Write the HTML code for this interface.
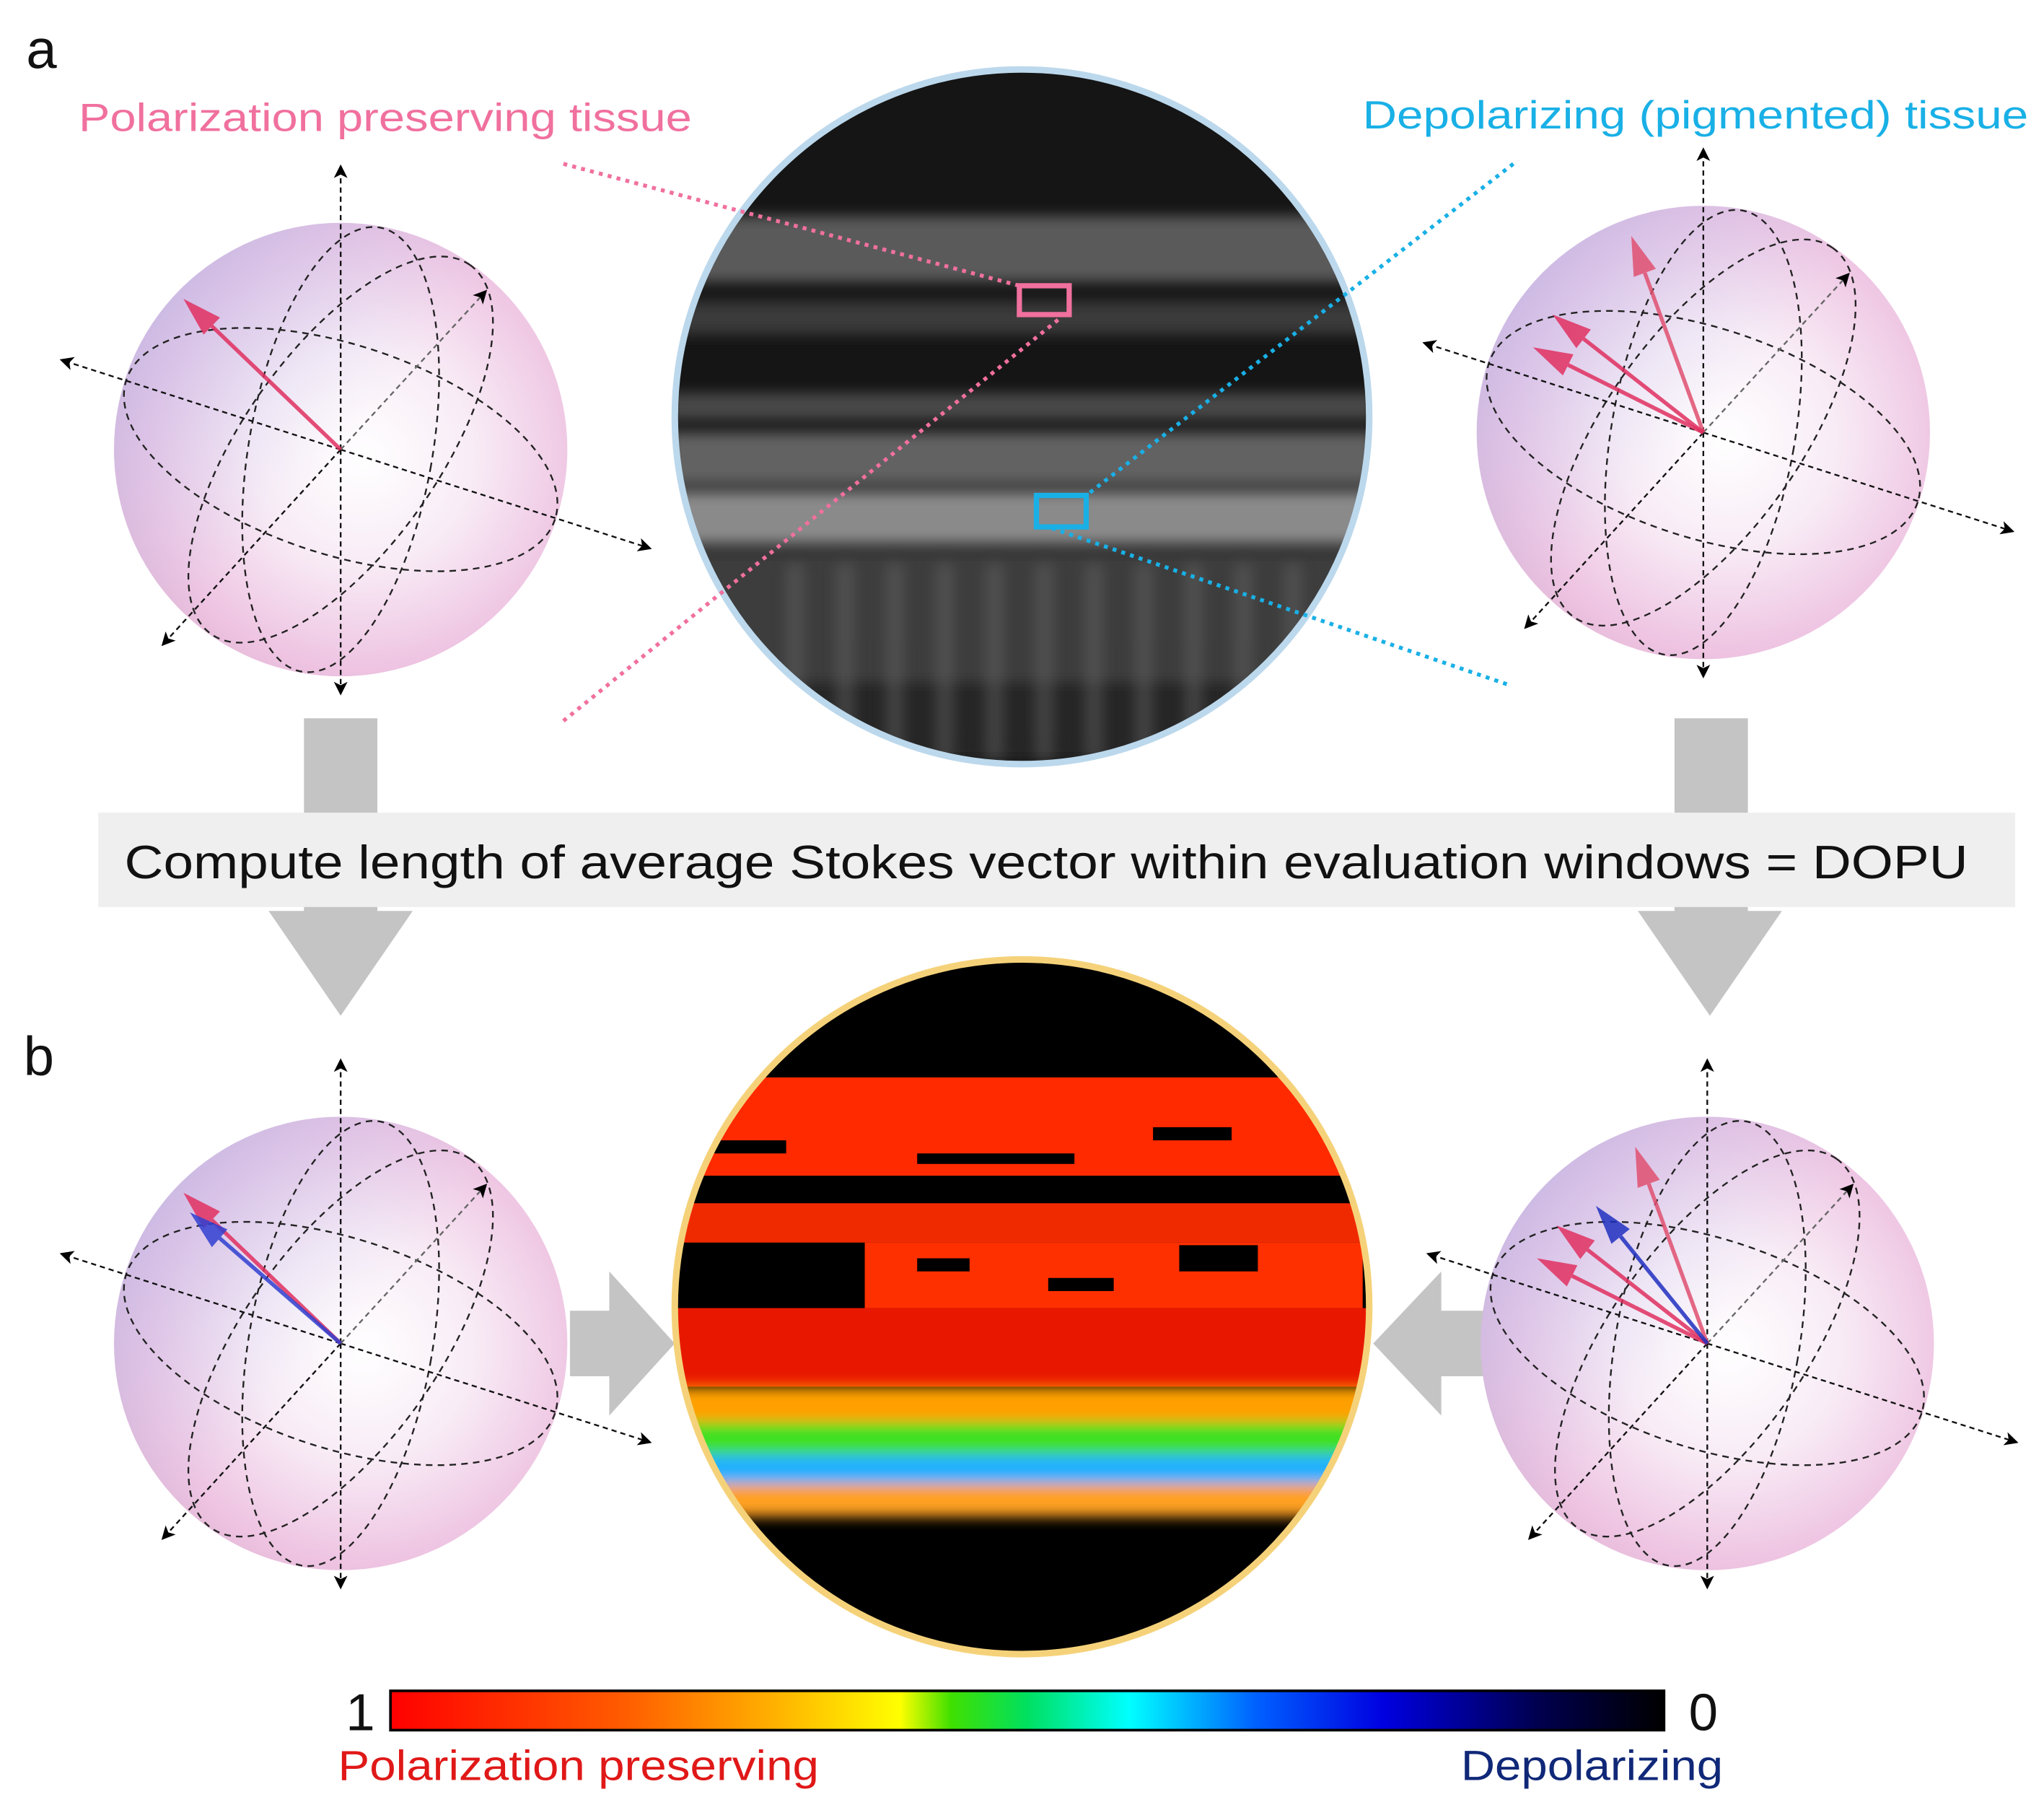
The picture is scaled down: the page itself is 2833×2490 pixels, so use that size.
<!DOCTYPE html>
<html><head><meta charset="utf-8"><style>
html,body{margin:0;padding:0;background:#fff;}
svg{display:block;}
text{font-family:"Liberation Sans","DejaVu Sans",sans-serif;}
</style></head><body>
<svg id="fig" width="2833" height="2490" viewBox="0 0 1560 1371" preserveAspectRatio="none" xmlns="http://www.w3.org/2000/svg">
<defs>
<radialGradient id="sph" cx="0.55" cy="0.5" r="0.6" fx="0.55" fy="0.52">
<stop offset="0" stop-color="#ffffff"/><stop offset="0.4" stop-color="#f8ecf6"/><stop offset="0.8" stop-color="#eec4e2"/><stop offset="1" stop-color="#e0b4d4"/></radialGradient>
<linearGradient id="sphtop" x1="0.2" y1="0" x2="0.9" y2="0.6"><stop offset="0" stop-color="#a8b8f0" stop-opacity="0.45"/><stop offset="0.6" stop-color="#b8c8f0" stop-opacity="0"/></linearGradient>
<linearGradient id="cbar" x1="0" x2="1"><stop offset="0" stop-color="#ff0000"/><stop offset="0.18" stop-color="#ff5a00"/><stop offset="0.3" stop-color="#ffb000"/><stop offset="0.4" stop-color="#ffff00"/><stop offset="0.44" stop-color="#40e000"/><stop offset="0.5" stop-color="#00e060"/><stop offset="0.58" stop-color="#00ffff"/><stop offset="0.68" stop-color="#0060ff"/><stop offset="0.78" stop-color="#0000e0"/><stop offset="0.9" stop-color="#000050"/><stop offset="1" stop-color="#000000"/></linearGradient>
<clipPath id="c1"><circle cx="780" cy="318" r="265"/></clipPath>
<clipPath id="c2"><circle cx="780" cy="997" r="265"/></clipPath>
<filter id="blur"><feGaussianBlur stdDeviation="5"/></filter>
<marker id="ah" markerWidth="8" markerHeight="8" refX="6" refY="4" orient="auto" markerUnits="strokeWidth"><path d="M0,0 L8,4 L0,8 L2,4z" fill="#000"/></marker>
</defs>

<text x="20" y="52" font-size="42" fill="#111">a</text>
<text x="18" y="820" font-size="42" fill="#111">b</text>
<text x="60" y="100" font-size="30" fill="#f0709e" textLength="468" lengthAdjust="spacingAndGlyphs">Polarization preserving tissue</text>
<text x="1040" y="98" font-size="30" fill="#19b0e6" textLength="508" lengthAdjust="spacingAndGlyphs">Depolarizing (pigmented) tissue</text>

<g fill="#c4c4c4">
<rect x="232" y="548" width="56" height="150"/><path d="M205,695 L315,695 L260,775z"/>
<rect x="1278" y="548" width="56" height="150"/><path d="M1250,695 L1360,695 L1305,775z"/>
<rect x="435" y="1000" width="40" height="50"/><path d="M465,970 L515,1025 L465,1080z"/>
<rect x="1090" y="1000" width="45" height="50"/><path d="M1100,970 L1048,1025 L1100,1080z"/>
</g>
<rect x="75" y="620" width="1463" height="72" fill="#efefef"/>
<text x="95" y="670" font-size="36" fill="#111" textLength="1407" lengthAdjust="spacingAndGlyphs">Compute length of average Stokes vector within evaluation windows = DOPU</text>

<g clip-path="url(#c1)">
<rect x="510" y="50" width="540" height="540" fill="#151515"/>
<g filter="url(#blur)">
<rect x="510" y="165" width="540" height="50" fill="#5a5a5a"/>
<rect x="510" y="230" width="540" height="25" fill="#3a3a3a"/>
<rect x="510" y="300" width="540" height="20" fill="#4a4a4a"/>
<rect x="510" y="330" width="540" height="40" fill="#626262"/>
<rect x="510" y="375" width="540" height="40" fill="#8a8a8a"/>
<rect x="510" y="420" width="540" height="100" fill="#3c3c3c"/>
<rect x="510" y="520" width="540" height="60" fill="#262626"/>
</g>
<g fill="#666" opacity="0.45" id="streaks" filter="url(#blur)"></g>
</g>
<circle cx="780" cy="318" r="265" fill="none" stroke="#bcd8ec" stroke-width="5"/>
<rect x="778" y="218" width="38" height="22" fill="none" stroke="#f0709e" stroke-width="4"/>
<rect x="791" y="378" width="38" height="24" fill="none" stroke="#19b0e6" stroke-width="4"/>
<g stroke-width="3" stroke-dasharray="3,4" fill="none">
<line x1="430" y1="125" x2="778" y2="218" stroke="#f0709e"/>
<line x1="430" y1="550" x2="810" y2="242" stroke="#f0709e"/>
<line x1="1155" y1="125" x2="829" y2="378" stroke="#19b0e6"/>
<line x1="1150" y1="522" x2="800" y2="402" stroke="#19b0e6"/>
</g>

<g clip-path="url(#c2)">
<rect x="510" y="730" width="540" height="540" fill="#000"/>
<rect x="510" y="822" width="540" height="75" fill="#ff2a00"/>
<rect x="510" y="918" width="540" height="30" fill="#f02a00"/>
<rect x="660" y="948" width="380" height="50" fill="#ff3000"/>
<rect x="510" y="998" width="540" height="60" fill="#e81800"/>
<g filter="url(#blur)">
<rect x="510" y="1058" width="540" height="30" fill="#ffa000"/>
<rect x="510" y="1085" width="540" height="30" fill="#40e020"/>
<rect x="510" y="1110" width="540" height="25" fill="#20b0ff"/>
<rect x="510" y="1132" width="540" height="25" fill="#ffa020"/>
</g>
<g fill="#000"><rect x="540" y="870" width="60" height="10"/><rect x="700" y="880" width="120" height="8"/><rect x="880" y="860" width="60" height="10"/><rect x="700" y="960" width="40" height="10"/><rect x="900" y="950" width="60" height="20"/><rect x="800" y="975" width="50" height="10"/></g>
</g>
<circle cx="780" cy="997" r="265" fill="none" stroke="#f5d27a" stroke-width="5"/>

<g id="spheres"></g>

<rect x="298" y="1290" width="972" height="30" fill="url(#cbar)" stroke="#000" stroke-width="2"/>
<text x="275" y="1320" font-size="40" fill="#111" text-anchor="middle">1</text>
<text x="1300" y="1320" font-size="40" fill="#111" text-anchor="middle">0</text>
<text x="258" y="1358" font-size="32" fill="#e01818" textLength="367" lengthAdjust="spacingAndGlyphs">Polarization preserving</text>
<text x="1115" y="1358" font-size="32" fill="#102878" textLength="200" lengthAdjust="spacingAndGlyphs">Depolarizing</text>
</svg>
<script>
const sphereCenters=[[260,343],[1300,330],[260,1025],[1303,1025]];
const sphereVectors=[
 [[-120,-115,'#e03060']],
 [[-55,-150,'#e05070'],[-115,-90,'#e03060'],[-130,-65,'#e03060']],
 [[-120,-115,'#e03060'],[-115,-100,'#3040d0']],
 [[-55,-150,'#e05070'],[-115,-90,'#e03060'],[-130,-65,'#e03060'],[-85,-105,'#2030c0']]
];
const g=document.getElementById('spheres');
let h='';
sphereCenters.forEach(([cx,cy],i)=>{
 h+=`<g>`;
 h+=`<circle cx="${cx}" cy="${cy}" r="173" fill="url(#sph)"/><circle cx="${cx}" cy="${cy}" r="173" fill="url(#sphtop)"/>`;
 h+=`<g fill="none" stroke="#222" stroke-width="1.3" stroke-dasharray="5,4">
 <ellipse cx="${cx}" cy="${cy}" rx="172" ry="80" transform="rotate(18 ${cx} ${cy})"/>
 <ellipse cx="${cx}" cy="${cy}" rx="172" ry="75" transform="rotate(-55 ${cx} ${cy})"/>
 <ellipse cx="${cx}" cy="${cy}" rx="70" ry="172" transform="rotate(10 ${cx} ${cy})"/></g>`;
 h+=`<g stroke="#111" stroke-width="1.3" stroke-dasharray="4,3" fill="none">
 <line x1="${cx}" y1="${cy}" x2="${cx}" y2="${cy-215}" marker-end="url(#ah)"/>
 <line x1="${cx}" y1="${cy}" x2="${cx}" y2="${cy+185}" marker-end="url(#ah)"/>
 <line x1="${cx}" y1="${cy}" x2="${cx-212}" y2="${cy-68}" marker-end="url(#ah)"/>
 <line x1="${cx}" y1="${cy}" x2="${cx+235}" y2="${cy+75}" marker-end="url(#ah)"/>
 <line x1="${cx}" y1="${cy}" x2="${cx-135}" y2="${cy+148}" marker-end="url(#ah)"/>
 <line x1="${cx}" y1="${cy}" x2="${cx+110}" y2="${cy-120}" stroke="#666" marker-end="url(#ah)"/></g>`;
 sphereVectors[i].forEach(([dx,dy,c],j)=>{
  const L=Math.hypot(dx,dy),ux=dx/L,uy=dy/L,bx=cx+dx-ux*30,by=cy+dy-uy*30;
  h+=`<line x1="${cx}" y1="${cy}" x2="${bx}" y2="${by}" stroke="${c}" stroke-width="3" opacity="0.85"/>`;
  h+=`<path d="M${cx+dx},${cy+dy} L${bx-uy*9},${by+ux*9} L${bx+uy*9},${by-ux*9}z" fill="${c}" opacity="0.85"/>`;
 });
 h+='</g>';
});
g.innerHTML=h;
let s='';
for(let x=600;x<1000;x+=38){s+=`<rect x="${x}" y="430" width="14" height="150"/>`;}
document.getElementById('streaks').innerHTML=s;
</script>
</body></html>
